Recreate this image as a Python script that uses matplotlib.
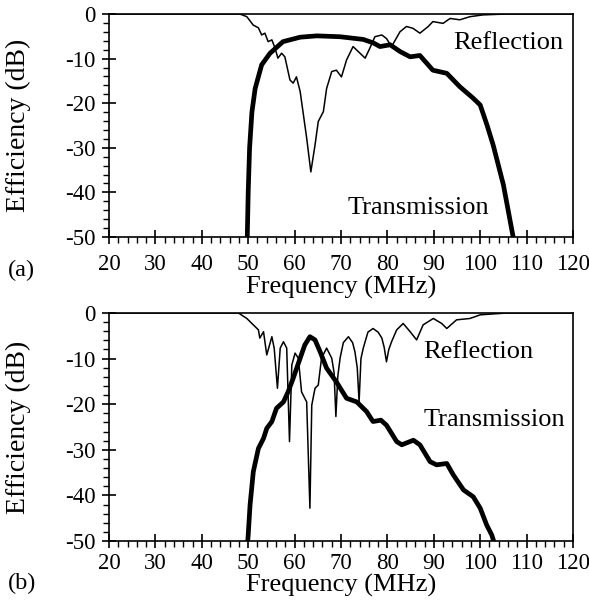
import numpy as np
import matplotlib
matplotlib.use("Agg")
import matplotlib.pyplot as plt
from matplotlib.ticker import MultipleLocator

plt.rcParams['font.family'] = ['Liberation Serif', 'DejaVu Serif']
plt.rcParams['axes.unicode_minus'] = False

# (a) transmission / reflection
trans_a_f = [49.8, 50.0, 50.3, 50.8, 51.5, 52.9, 54.7, 57.5, 61.2, 64.8, 69.8, 74.8,
             77.0, 78.4, 80.6, 82.7, 84.9, 87.0, 89.8, 92.8, 95.6, 98.4, 100.0,
             101.5, 102.8, 105.0, 107.1]
trans_a_db = [-50, -40, -30, -22, -16.7, -11.4, -8.8, -6.2, -5.2, -4.9, -5.1, -5.7,
              -6.5, -7.3, -6.9, -8.4, -9.6, -9.3, -12.6, -13.3, -16.3, -18.8, -20.4,
              -25, -29.4, -38.3, -50]

refl_a_f = [20, 48.2, 49.7, 51.1, 52.2, 52.9, 53.6, 54.3, 55.1, 55.8, 56.4, 57.2, 57.9,
            59.0, 59.7, 60.4, 61.2, 61.9, 62.6, 63.5, 64.4, 65.1, 66.2, 66.9, 68.0,
            69.0, 70.1, 71.2, 72.6, 73.7, 75.2, 76.2, 77.3, 78.8, 79.8, 80.9, 82.7,
            84.1, 85.5, 87.0, 88.8, 89.8, 92.0, 93.5, 95.6, 97.8, 100.6, 105.7, 120]
refl_a_db = [0, 0, -0.6, -2.5, -3.1, -4.7, -4.3, -6.2, -5.8, -7.7, -9.9, -8.8, -9.6,
             -14.8, -15.5, -14.1, -17.4, -22.6, -27.8, -35.4, -29.4, -24.1, -21.9, -16.7,
             -12.9, -12.6, -14.1, -10.3, -7.3, -8.4, -9.9, -7.7, -5.1, -4.7, -5.5, -7.3,
             -4.0, -2.8, -3.2, -4.3, -2.8, -1.7, -2.1, -1.0, -1.3, -0.6, -0.2, 0, 0]

# (b)
trans_b_f = [49.9, 50.0, 50.4, 51.1, 52.2, 53.3, 54.0, 55.1, 56.1, 57.6, 58.6, 59.7,
             61.2, 62.2, 63.3, 64.4, 65.5, 66.9, 69.0, 71.2, 73.4, 75.5, 76.9, 78.6,
             79.8, 82.0, 83.1, 85.6, 87.0, 89.2, 90.6, 92.8, 94.2, 96.4, 98.5, 100.0,
             101.4, 102.5, 102.9]
trans_b_db = [-50, -48.7, -42.1, -34.8, -29.7, -27.5, -25.3, -23.8, -20.9, -19.5, -17.3,
              -14.3, -9.9, -7.0, -5.2, -5.9, -8.5, -12.1, -15.1, -18.7, -19.5, -21.6,
              -23.8, -23.5, -24.6, -28.2, -28.9, -27.9, -28.9, -32.6, -33.3, -33.0,
              -35.5, -38.8, -40.3, -42.8, -46.5, -48.7, -50]

refl_b_f = [20, 47.9, 49.7, 51.1, 52.2, 52.5, 53.3, 54.0, 55.1, 55.6, 56.3, 56.9, 57.6,
            58.3, 58.9, 59.4, 60.1, 60.8, 61.5, 62.6, 63.3, 63.7, 64.4, 65.1, 65.8,
            66.9, 68.0, 68.5, 68.9, 69.3, 69.8, 70.5, 71.6, 72.5, 73.0, 73.5, 73.9,
            74.3, 74.8, 75.8, 76.9, 78.0, 78.8, 79.3, 79.8, 80.3, 80.9, 82.0, 83.4,
            84.9, 86.3, 87.7, 89.9, 91.7, 92.8, 94.9, 97.8, 100.0, 105.7, 120]
refl_b_db = [0, 0, -1.2, -2.6, -3.7, -5.5, -4.1, -9.2, -5.2, -7.7, -16.5, -7.7, -6.3,
             -7.7, -28.2, -11.4, -8.8, -9.9, -17.3, -19.5, -42.8, -20.2, -16.5, -15.8,
             -9.9, -7.7, -9.9, -13.0, -22.7, -14.0, -9.9, -6.5, -5.2, -6.5, -8.5, -12.0,
             -19.5, -10.0, -7.7, -4.2, -3.4, -4.2, -5.5, -7.5, -10.7, -8.0, -6.3, -3.7,
             -2.3, -4.1, -5.9, -2.6, -1.2, -2.3, -3.4, -1.5, -1.2, -0.4, 0, 0]

W, H = 589, 603
fig = plt.figure(figsize=(W / 100, H / 100), dpi=100)


def panel(rect, tf, tdb, rf, rdb, tag, tag_y, refl_xy, trans_xy, xpad, xlab_y):
    ax = fig.add_axes(rect)
    ax.plot(rf, rdb, color='black', lw=1.1, solid_joinstyle='round')
    ax.plot(tf, tdb, color='black', lw=3.4, solid_joinstyle='round')
    ax.set_xlim(20, 120)
    ax.set_ylim(-50, 0)
    ax.xaxis.set_major_locator(MultipleLocator(10))
    ax.xaxis.set_minor_locator(MultipleLocator(2))
    ax.yaxis.set_major_locator(MultipleLocator(10))
    ax.yaxis.set_minor_locator(MultipleLocator(2))
    ax.tick_params(which='major', direction='inout', length=10, width=1.2, labelsize=16.5)
    ax.tick_params(which='minor', direction='out', length=4.5, width=1.0)
    ax.tick_params(axis='y', which='major', pad=4.5)
    ax.tick_params(axis='x', which='major', pad=xpad)
    for s in ax.spines.values():
        s.set_linewidth(1.2)
    ax.set_xlabel('Frequency (MHz)', fontsize=19)
    ax.set_ylabel('Efficiency (dB)', fontsize=20)
    ax.xaxis.set_label_coords(0.5, xlab_y)
    ax.yaxis.set_label_coords(-0.168, 0.5)
    ax.text(refl_xy[0], refl_xy[1], 'Reflection', fontsize=19, ha='left', va='center')
    ax.text(trans_xy[0], trans_xy[1], 'Transmission', fontsize=19, ha='left', va='center')
    fig.text(8 / W, 1 - tag_y / H, tag, fontsize=17.5, ha='left', va='center')
    return ax


panel([109 / W, 1 - 237 / H, 464 / W, 223 / H], trans_a_f, trans_a_db, refl_a_f, refl_a_db,
      '(a)', 270, (94.1, -6.5), (71.5, -43.5), 7, -0.175)
panel([109 / W, 1 - 541 / H, 464 / W, 228 / H], trans_b_f, trans_b_db, refl_b_f, refl_b_db,
      '(b)', 583, (87.7, -8.6), (87.7, -23.5), 3.5, -0.143)

fig.savefig('out.png', dpi=100)
